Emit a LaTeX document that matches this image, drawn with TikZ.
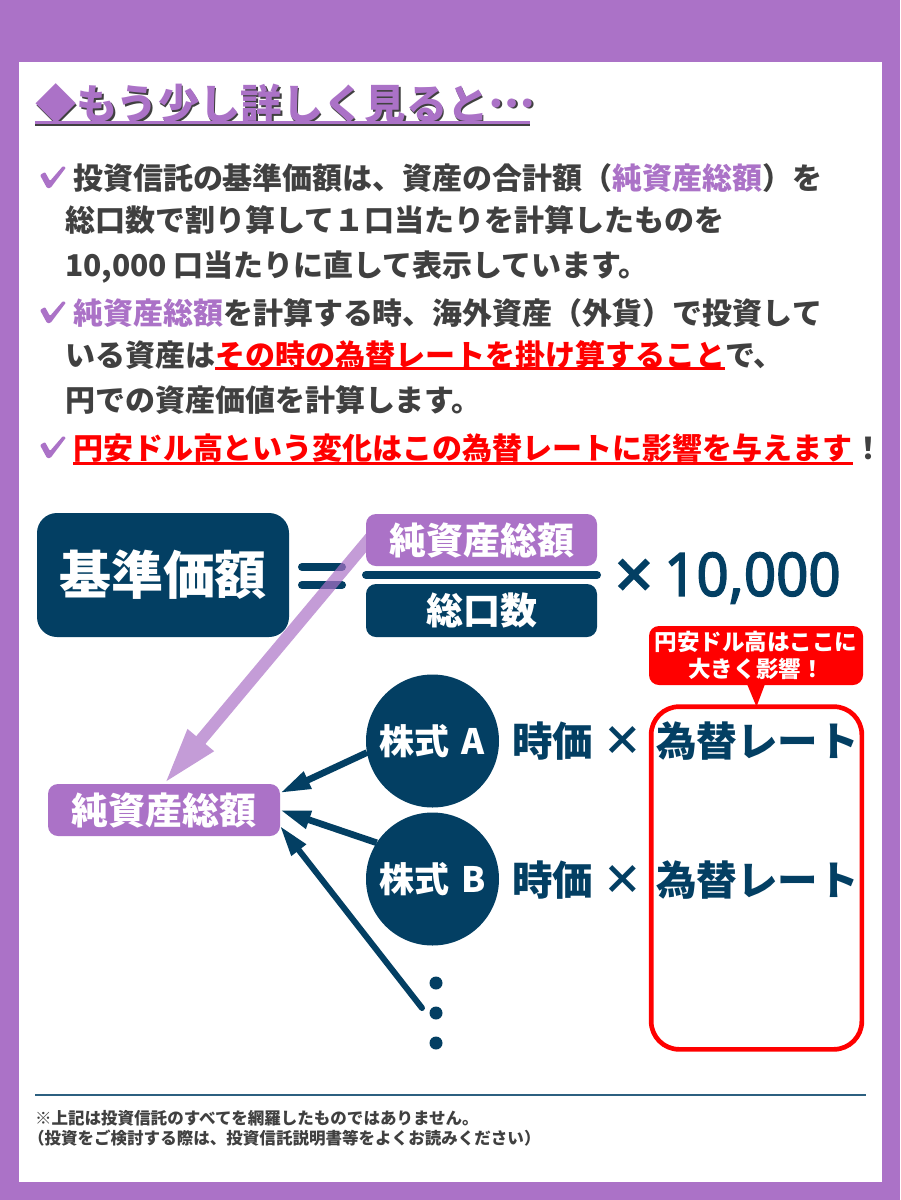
\documentclass[tikz,border=0pt]{standalone}
\usepackage{fontspec}
\setmainfont{Noto Sans CJK JP}
\newfontfamily\numfont[FakeBold=2.5]{Noto Sans}
\usetikzlibrary{calc,arrows.meta}
\definecolor{pur}{HTML}{AB72C7}
\definecolor{navy}{HTML}{033F63}
\definecolor{txt}{HTML}{404040}
\definecolor{rule}{HTML}{2C6080}
\newcommand{\chkmark}[1]{%
  \fill[pur,rounded corners=0.8pt,shift={(0,#1)}] (40,-3) -- (45,-6) -- (50,3) -- (63,-12) -- (66,-10.5) -- (50.5,10) -- (47,10) -- cycle;}
\newcommand{\titletext}{◆もう少し詳しく見ると\raisebox{0.3em}{…}}
\tikzset{
  f16/.style={font=\fontsize{12.4pt}{15pt}\selectfont\bfseries},
  f22/.style={font=\fontsize{16.9pt}{20pt}\selectfont\bfseries},
  f30/.style={font=\fontsize{22.5pt}{27pt}\selectfont\bfseries},
  f35/.style={font=\fontsize{26.25pt}{30pt}\selectfont\bfseries},
  f37/.style={font=\fontsize{27.75pt}{32pt}\selectfont\bfseries},
  f40/.style={font=\fontsize{30.4pt}{36pt}\selectfont\bfseries},
  f41/.style={font=\fontsize{31pt}{38pt}\selectfont\bfseries},
  f52/.style={font=\fontsize{39pt}{46pt}\selectfont\bfseries},
  f60/.style={font=\numfont\fontsize{45pt}{50pt}\selectfont},
  body/.style={f30,text=txt,anchor=base west,inner sep=0pt,outer sep=0pt},
  foot/.style={f16,text=txt,anchor=base west,inner sep=0pt,outer sep=0pt},
  box/.style={inner sep=0pt,outer sep=0pt,rounded corners=7.5pt,text=white,anchor=center},
  ball/.style={circle,fill=navy,text=white,f35,inner sep=0pt,outer sep=0pt,minimum size=99.75pt},
  navytext/.style={f40,text=navy,inner sep=0pt,outer sep=0pt},
  dotmark/.style={circle,fill=navy,inner sep=0pt,outer sep=0pt,minimum size=9.75pt},
  uline/.style={red,line width=2.25pt},
  link/.style={navy,line width=5pt,-{Triangle[length=23pt,width=13pt]}},
  eqbar/.style={navy,line width=6pt,line cap=round},
}
\begin{document}
\begin{tikzpicture}[x=0.75pt,y=-0.75pt]
\useasboundingbox (0,0) rectangle (900,1200);
\fill[pur] (0,0) rectangle (900,1200);
\fill[white] (19,62) rectangle (882,1182);

% title
\node[f41,text=txt,anchor=base west,inner sep=0pt] (titleshadow) at (36.5,121) {\titletext};
\node[f41,text=pur,anchor=base west,inner sep=0pt] (title) at (35,119.5) {\titletext};
\draw[txt,line width=2.25pt] (35,124.5) -- (530,124.5);
\draw[pur,line width=2.25pt] (35,122.5) -- (530,122.5);

% body
\chkmark{178}
\node[body] (l1) at (73,189) {投資信託の基準価額は、資産の合計額（\textcolor{pur}{純資産総額}）を};
\node[body] (l2) at (65,231) {総口数で割り算して１口当たりを計算したものを};
\node[body] (l3) at (65,276) {10,000 口当たりに直して表示しています。};
\chkmark{313}
\node[body] (l4) at (73,324) {\textcolor{pur}{純資産総額}を計算する時、海外資産（外貨）で投資して};
\node[body] (l5a) at (65,366) {いる資産は};
\node[body,text=red] (l5b) at (l5a.base east) {その時の為替レートを掛け算すること};
\node[body] (l5c) at (l5b.base east) {で、};
\draw[uline] ([yshift=-1.5pt]l5b.base west) -- ([yshift=-1.5pt]l5b.base east);
\node[body] (l6) at (65,411) {円での資産価値を計算します。};
\chkmark{448}
\node[body,text=red] (l7a) at (73,459) {円安ドル高という変化はこの為替レートに影響を与えます};
\node[body] (l7b) at (l7a.base east) {！};
\draw[uline] ([yshift=-3pt]l7a.base west) -- ([yshift=-3pt]l7a.base east);

% formula
\coordinate (eqL1) at (302,567);
\coordinate (eqR1) at (342,567);
\coordinate (eqL2) at (302,585);
\coordinate (eqR2) at (342,585);
\draw[eqbar] (eqL1) -- (eqR1);
\draw[eqbar] (eqL2) -- (eqR2);

\node[box,fill=pur,minimum width=174pt,minimum height=39pt,f37] (total) at (164,810) {純資産総額};
\coordinate (arrowstart) at (376,531);
\begin{scope}[transparency group,opacity=0.7]
\draw[pur,line width=9pt,-{Triangle[length=43pt,width=23pt]}] (arrowstart) -- (total.north);
\end{scope}

\node[box,fill=navy,minimum width=189pt,minimum height=93pt,rounded corners=15pt,f52] (base) at (163,575) {\raisebox{-1pt}{基準価額}};
\node[box,fill=pur,minimum width=173.25pt,minimum height=39pt,f37] (numer) at (481.5,540) {純資産総額};
\coordinate (barL) at (366,575);
\coordinate (barR) at (597,575);
\draw[eqbar] (barL) -- (barR);
\node[box,fill=navy,minimum width=173.25pt,minimum height=39.75pt,f37] (denom) at (481.5,610.5) {総口数};
\node[inner sep=0pt,text=navy,f60,scale=1.12] (times) at (634,579) {×};
\node[inner sep=0pt,text=navy,f60,anchor=west,xscale=0.94] (tenk) at (664,578) {10,000};

% frame and callout
\node[draw=red,line width=3.5pt,fill=white,inner sep=0pt,outer sep=0pt,rounded corners=21pt,minimum width=158pt,minimum height=257pt] (frame) at (756.5,878) {};
\node[box,fill=red,minimum width=160.5pt,minimum height=44.25pt,f22,align=center] (callout) at (756,655.5) {円安ドル高はここに\\大きく影響！};
\fill[red] ($(callout.south)+(-9,-1)$) -- ($(callout.south)+(9,-1)$) -- (frame.north) -- cycle;

% stocks
\node[dotmark] (d1) at (436,983) {};
\node[dotmark] (d2) at (436,1013) {};
\node[dotmark] (d3) at (436,1043) {};
\node[ball] (sa) at (432.5,741) {株式\hspace{3pt} A};
\node[ball] (sb) at (432.5,879) {株式\hspace{3pt} B};
\coordinate (restend) at (422,1008);
\draw[link] (sa.190) -- ($(total.east)+(0,-17)$);
\draw[link] (sb.147) -- ($(total.east)+(0,0)$);
\draw[navy,line width=4.5pt,-{Triangle[length=23pt,width=13pt]},line cap=round] (restend) -- ($(total.east)+(0,16)$);

\node[navytext,anchor=west] (pa) at (512,741) {時価};
\node[navytext] (xa) at (623,741) {×};
\node[navytext,anchor=west] (ra) at (656,741) {為替レート};
\node[navytext,anchor=west] (pb) at (512,880) {時価};
\node[navytext] (xb) at (623,880) {×};
\node[navytext,anchor=west] (rb) at (656,880) {為替レート};

% footer
\draw[rule,line width=1.5pt] (35,1095) -- (866,1095);
\node[foot] (f1) at (35,1124) {※上記は投資信託のすべてを網羅したものではありません。};
\node[foot] (f2) at (28,1144) {（投資をご検討する際は、投資信託説明書等をよくお読みください）};
\end{tikzpicture}
\end{document}
